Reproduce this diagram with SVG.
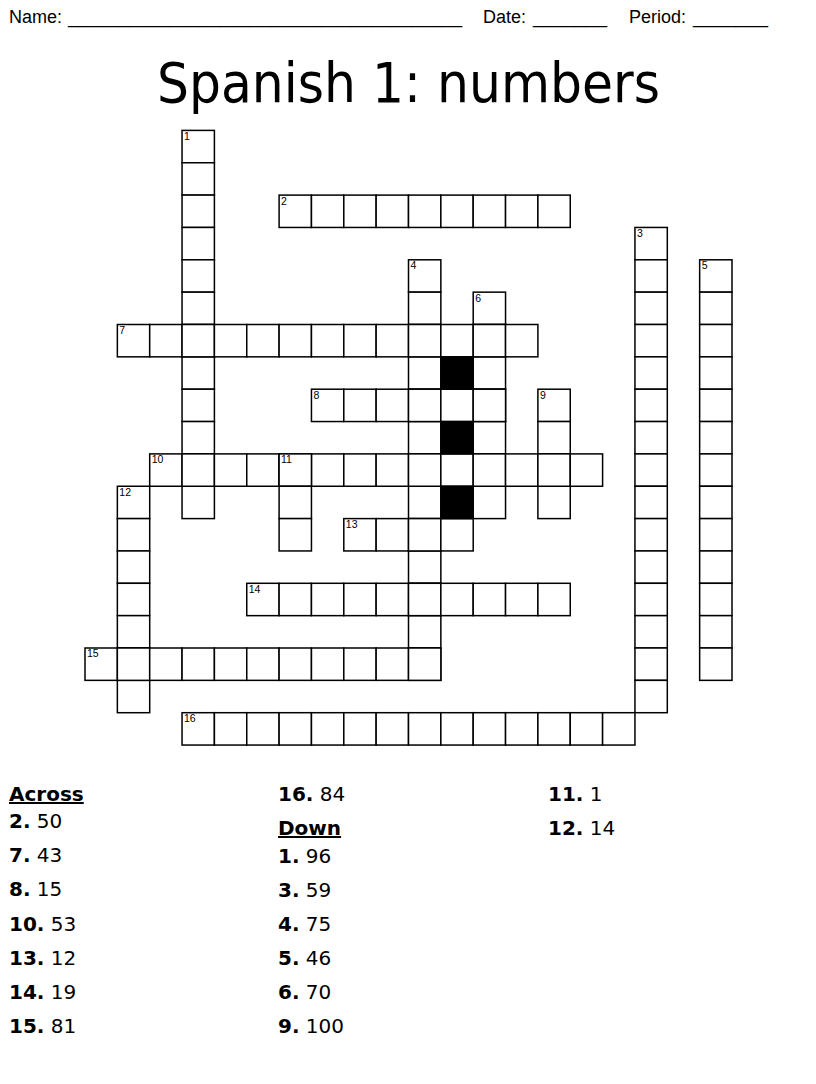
<svg xmlns="http://www.w3.org/2000/svg" width="816" height="1084" viewBox="0 0 816 1084">
<style>
.c{fill:#fff;stroke:#000;stroke-width:1.5}
.b{fill:#000;stroke:#000;stroke-width:1.5}
.n{font-family:"Liberation Sans",Arial,sans-serif;font-size:10.5px;fill:#000}
.h{font-family:"Liberation Sans",Arial,sans-serif;font-size:18px;fill:#000}
.t{font-family:"DejaVu Sans",sans-serif;font-size:56px;fill:#000}
.k{font-family:"DejaVu Sans",sans-serif;font-size:20px;fill:#000}
.k tspan.bn{font-weight:bold}
.hd{font-family:"DejaVu Sans",sans-serif;font-size:20px;font-weight:bold;text-decoration:underline;fill:#000}
</style>
<rect width="816" height="1084" fill="#fff"/>
<g id="header">
<text class="h" x="9" y="23">Name:</text>
<text class="h" x="68" y="23" textLength="394" lengthAdjust="spacingAndGlyphs">_______________________________________</text>
<text class="h" x="483" y="23">Date:</text>
<text class="h" x="533" y="23" textLength="74" lengthAdjust="spacingAndGlyphs">_______</text>
<text class="h" x="629" y="23">Period:</text>
<text class="h" x="693" y="23" textLength="75" lengthAdjust="spacingAndGlyphs">_______</text>
</g>
<text id="title" class="t" x="157" y="102" textLength="503" lengthAdjust="spacingAndGlyphs">Spanish 1: numbers</text>
<g id="grid" transform="translate(85,130.4)">
<g id="w1">
<rect class="c" x="97.05" y="0" width="32.35" height="32.35"/>
<rect class="c" x="97.05" y="32.35" width="32.35" height="32.35"/>
<rect class="c" x="97.05" y="64.7" width="32.35" height="32.35"/>
<rect class="c" x="97.05" y="97.05" width="32.35" height="32.35"/>
<rect class="c" x="97.05" y="129.4" width="32.35" height="32.35"/>
<rect class="c" x="97.05" y="161.75" width="32.35" height="32.35"/>
<rect class="c" x="97.05" y="194.1" width="32.35" height="32.35"/>
<rect class="c" x="97.05" y="226.45" width="32.35" height="32.35"/>
<rect class="c" x="97.05" y="258.8" width="32.35" height="32.35"/>
<rect class="c" x="97.05" y="291.15" width="32.35" height="32.35"/>
<rect class="c" x="97.05" y="323.5" width="32.35" height="32.35"/>
<rect class="c" x="97.05" y="355.85" width="32.35" height="32.35"/>
</g>
<g id="w2">
<rect class="c" x="194.1" y="64.7" width="32.35" height="32.35"/>
<rect class="c" x="226.45" y="64.7" width="32.35" height="32.35"/>
<rect class="c" x="258.8" y="64.7" width="32.35" height="32.35"/>
<rect class="c" x="291.15" y="64.7" width="32.35" height="32.35"/>
<rect class="c" x="323.5" y="64.7" width="32.35" height="32.35"/>
<rect class="c" x="355.85" y="64.7" width="32.35" height="32.35"/>
<rect class="c" x="388.2" y="64.7" width="32.35" height="32.35"/>
<rect class="c" x="420.55" y="64.7" width="32.35" height="32.35"/>
<rect class="c" x="452.9" y="64.7" width="32.35" height="32.35"/>
</g>
<g id="w3">
<rect class="c" x="549.95" y="97.05" width="32.35" height="32.35"/>
<rect class="c" x="549.95" y="129.4" width="32.35" height="32.35"/>
<rect class="c" x="549.95" y="161.75" width="32.35" height="32.35"/>
<rect class="c" x="549.95" y="194.1" width="32.35" height="32.35"/>
<rect class="c" x="549.95" y="226.45" width="32.35" height="32.35"/>
<rect class="c" x="549.95" y="258.8" width="32.35" height="32.35"/>
<rect class="c" x="549.95" y="291.15" width="32.35" height="32.35"/>
<rect class="c" x="549.95" y="323.5" width="32.35" height="32.35"/>
<rect class="c" x="549.95" y="355.85" width="32.35" height="32.35"/>
<rect class="c" x="549.95" y="388.2" width="32.35" height="32.35"/>
<rect class="c" x="549.95" y="420.55" width="32.35" height="32.35"/>
<rect class="c" x="549.95" y="452.9" width="32.35" height="32.35"/>
<rect class="c" x="549.95" y="485.25" width="32.35" height="32.35"/>
<rect class="c" x="549.95" y="517.6" width="32.35" height="32.35"/>
<rect class="c" x="549.95" y="549.95" width="32.35" height="32.35"/>
</g>
<g id="w4">
<rect class="c" x="323.5" y="129.4" width="32.35" height="32.35"/>
<rect class="c" x="323.5" y="161.75" width="32.35" height="32.35"/>
<rect class="c" x="323.5" y="194.1" width="32.35" height="32.35"/>
<rect class="c" x="323.5" y="226.45" width="32.35" height="32.35"/>
<rect class="c" x="323.5" y="258.8" width="32.35" height="32.35"/>
<rect class="c" x="323.5" y="291.15" width="32.35" height="32.35"/>
<rect class="c" x="323.5" y="323.5" width="32.35" height="32.35"/>
<rect class="c" x="323.5" y="355.85" width="32.35" height="32.35"/>
<rect class="c" x="323.5" y="388.2" width="32.35" height="32.35"/>
<rect class="c" x="323.5" y="420.55" width="32.35" height="32.35"/>
<rect class="c" x="323.5" y="452.9" width="32.35" height="32.35"/>
<rect class="c" x="323.5" y="485.25" width="32.35" height="32.35"/>
<rect class="c" x="323.5" y="517.6" width="32.35" height="32.35"/>
</g>
<g id="w5">
<rect class="c" x="614.65" y="129.4" width="32.35" height="32.35"/>
<rect class="c" x="614.65" y="161.75" width="32.35" height="32.35"/>
<rect class="c" x="614.65" y="194.1" width="32.35" height="32.35"/>
<rect class="c" x="614.65" y="226.45" width="32.35" height="32.35"/>
<rect class="c" x="614.65" y="258.8" width="32.35" height="32.35"/>
<rect class="c" x="614.65" y="291.15" width="32.35" height="32.35"/>
<rect class="c" x="614.65" y="323.5" width="32.35" height="32.35"/>
<rect class="c" x="614.65" y="355.85" width="32.35" height="32.35"/>
<rect class="c" x="614.65" y="388.2" width="32.35" height="32.35"/>
<rect class="c" x="614.65" y="420.55" width="32.35" height="32.35"/>
<rect class="c" x="614.65" y="452.9" width="32.35" height="32.35"/>
<rect class="c" x="614.65" y="485.25" width="32.35" height="32.35"/>
<rect class="c" x="614.65" y="517.6" width="32.35" height="32.35"/>
</g>
<g id="w6">
<rect class="c" x="388.2" y="161.75" width="32.35" height="32.35"/>
<rect class="c" x="388.2" y="194.1" width="32.35" height="32.35"/>
<rect class="c" x="388.2" y="226.45" width="32.35" height="32.35"/>
<rect class="c" x="388.2" y="258.8" width="32.35" height="32.35"/>
<rect class="c" x="388.2" y="291.15" width="32.35" height="32.35"/>
<rect class="c" x="388.2" y="323.5" width="32.35" height="32.35"/>
<rect class="c" x="388.2" y="355.85" width="32.35" height="32.35"/>
</g>
<g id="w7">
<rect class="c" x="32.35" y="194.1" width="32.35" height="32.35"/>
<rect class="c" x="64.7" y="194.1" width="32.35" height="32.35"/>
<rect class="c" x="97.05" y="194.1" width="32.35" height="32.35"/>
<rect class="c" x="129.4" y="194.1" width="32.35" height="32.35"/>
<rect class="c" x="161.75" y="194.1" width="32.35" height="32.35"/>
<rect class="c" x="194.1" y="194.1" width="32.35" height="32.35"/>
<rect class="c" x="226.45" y="194.1" width="32.35" height="32.35"/>
<rect class="c" x="258.8" y="194.1" width="32.35" height="32.35"/>
<rect class="c" x="291.15" y="194.1" width="32.35" height="32.35"/>
<rect class="c" x="323.5" y="194.1" width="32.35" height="32.35"/>
<rect class="c" x="355.85" y="194.1" width="32.35" height="32.35"/>
<rect class="c" x="388.2" y="194.1" width="32.35" height="32.35"/>
<rect class="c" x="420.55" y="194.1" width="32.35" height="32.35"/>
</g>
<g id="w8">
<rect class="c" x="226.45" y="258.8" width="32.35" height="32.35"/>
<rect class="c" x="258.8" y="258.8" width="32.35" height="32.35"/>
<rect class="c" x="291.15" y="258.8" width="32.35" height="32.35"/>
<rect class="c" x="323.5" y="258.8" width="32.35" height="32.35"/>
<rect class="c" x="355.85" y="258.8" width="32.35" height="32.35"/>
<rect class="c" x="388.2" y="258.8" width="32.35" height="32.35"/>
</g>
<g id="w9">
<rect class="c" x="452.9" y="258.8" width="32.35" height="32.35"/>
<rect class="c" x="452.9" y="291.15" width="32.35" height="32.35"/>
<rect class="c" x="452.9" y="323.5" width="32.35" height="32.35"/>
<rect class="c" x="452.9" y="355.85" width="32.35" height="32.35"/>
</g>
<g id="w10">
<rect class="c" x="64.7" y="323.5" width="32.35" height="32.35"/>
<rect class="c" x="97.05" y="323.5" width="32.35" height="32.35"/>
<rect class="c" x="129.4" y="323.5" width="32.35" height="32.35"/>
<rect class="c" x="161.75" y="323.5" width="32.35" height="32.35"/>
<rect class="c" x="194.1" y="323.5" width="32.35" height="32.35"/>
<rect class="c" x="226.45" y="323.5" width="32.35" height="32.35"/>
<rect class="c" x="258.8" y="323.5" width="32.35" height="32.35"/>
<rect class="c" x="291.15" y="323.5" width="32.35" height="32.35"/>
<rect class="c" x="323.5" y="323.5" width="32.35" height="32.35"/>
<rect class="c" x="355.85" y="323.5" width="32.35" height="32.35"/>
<rect class="c" x="388.2" y="323.5" width="32.35" height="32.35"/>
<rect class="c" x="420.55" y="323.5" width="32.35" height="32.35"/>
<rect class="c" x="452.9" y="323.5" width="32.35" height="32.35"/>
<rect class="c" x="485.25" y="323.5" width="32.35" height="32.35"/>
</g>
<g id="w11">
<rect class="c" x="194.1" y="323.5" width="32.35" height="32.35"/>
<rect class="c" x="194.1" y="355.85" width="32.35" height="32.35"/>
<rect class="c" x="194.1" y="388.2" width="32.35" height="32.35"/>
</g>
<g id="w12">
<rect class="c" x="32.35" y="355.85" width="32.35" height="32.35"/>
<rect class="c" x="32.35" y="388.2" width="32.35" height="32.35"/>
<rect class="c" x="32.35" y="420.55" width="32.35" height="32.35"/>
<rect class="c" x="32.35" y="452.9" width="32.35" height="32.35"/>
<rect class="c" x="32.35" y="485.25" width="32.35" height="32.35"/>
<rect class="c" x="32.35" y="517.6" width="32.35" height="32.35"/>
<rect class="c" x="32.35" y="549.95" width="32.35" height="32.35"/>
</g>
<g id="w13">
<rect class="c" x="258.8" y="388.2" width="32.35" height="32.35"/>
<rect class="c" x="291.15" y="388.2" width="32.35" height="32.35"/>
<rect class="c" x="323.5" y="388.2" width="32.35" height="32.35"/>
<rect class="c" x="355.85" y="388.2" width="32.35" height="32.35"/>
</g>
<g id="w14">
<rect class="c" x="161.75" y="452.9" width="32.35" height="32.35"/>
<rect class="c" x="194.1" y="452.9" width="32.35" height="32.35"/>
<rect class="c" x="226.45" y="452.9" width="32.35" height="32.35"/>
<rect class="c" x="258.8" y="452.9" width="32.35" height="32.35"/>
<rect class="c" x="291.15" y="452.9" width="32.35" height="32.35"/>
<rect class="c" x="323.5" y="452.9" width="32.35" height="32.35"/>
<rect class="c" x="355.85" y="452.9" width="32.35" height="32.35"/>
<rect class="c" x="388.2" y="452.9" width="32.35" height="32.35"/>
<rect class="c" x="420.55" y="452.9" width="32.35" height="32.35"/>
<rect class="c" x="452.9" y="452.9" width="32.35" height="32.35"/>
</g>
<g id="w15">
<rect class="c" x="0" y="517.6" width="32.35" height="32.35"/>
<rect class="c" x="32.35" y="517.6" width="32.35" height="32.35"/>
<rect class="c" x="64.7" y="517.6" width="32.35" height="32.35"/>
<rect class="c" x="97.05" y="517.6" width="32.35" height="32.35"/>
<rect class="c" x="129.4" y="517.6" width="32.35" height="32.35"/>
<rect class="c" x="161.75" y="517.6" width="32.35" height="32.35"/>
<rect class="c" x="194.1" y="517.6" width="32.35" height="32.35"/>
<rect class="c" x="226.45" y="517.6" width="32.35" height="32.35"/>
<rect class="c" x="258.8" y="517.6" width="32.35" height="32.35"/>
<rect class="c" x="291.15" y="517.6" width="32.35" height="32.35"/>
<rect class="c" x="323.5" y="517.6" width="32.35" height="32.35"/>
</g>
<g id="w16">
<rect class="c" x="97.05" y="582.3" width="32.35" height="32.35"/>
<rect class="c" x="129.4" y="582.3" width="32.35" height="32.35"/>
<rect class="c" x="161.75" y="582.3" width="32.35" height="32.35"/>
<rect class="c" x="194.1" y="582.3" width="32.35" height="32.35"/>
<rect class="c" x="226.45" y="582.3" width="32.35" height="32.35"/>
<rect class="c" x="258.8" y="582.3" width="32.35" height="32.35"/>
<rect class="c" x="291.15" y="582.3" width="32.35" height="32.35"/>
<rect class="c" x="323.5" y="582.3" width="32.35" height="32.35"/>
<rect class="c" x="355.85" y="582.3" width="32.35" height="32.35"/>
<rect class="c" x="388.2" y="582.3" width="32.35" height="32.35"/>
<rect class="c" x="420.55" y="582.3" width="32.35" height="32.35"/>
<rect class="c" x="452.9" y="582.3" width="32.35" height="32.35"/>
<rect class="c" x="485.25" y="582.3" width="32.35" height="32.35"/>
<rect class="c" x="517.6" y="582.3" width="32.35" height="32.35"/>
</g>
<g id="blocks">
<rect class="b" x="355.85" y="226.45" width="32.35" height="32.35"/>
<rect class="b" x="355.85" y="291.15" width="32.35" height="32.35"/>
<rect class="b" x="355.85" y="355.85" width="32.35" height="32.35"/>
</g>
<g id="numbers">
<text class="n" x="99" y="9.5">1</text>
<text class="n" x="196" y="74.2">2</text>
<text class="n" x="552" y="106.5">3</text>
<text class="n" x="325.5" y="138.9">4</text>
<text class="n" x="616.7" y="138.9">5</text>
<text class="n" x="390.2" y="171.2">6</text>
<text class="n" x="34.3" y="203.6">7</text>
<text class="n" x="228.4" y="268.3">8</text>
<text class="n" x="454.9" y="268.3">9</text>
<text class="n" x="66.7" y="333">10</text>
<text class="n" x="196" y="333">11</text>
<text class="n" x="34.3" y="365.3">12</text>
<text class="n" x="260.8" y="397.7">13</text>
<text class="n" x="163.7" y="462.4">14</text>
<text class="n" x="2" y="527.1">15</text>
<text class="n" x="99" y="591.8">16</text>
</g>
</g>
<g id="clues">
<text class="hd" x="9" y="801">Across</text>
<text class="k" x="9" y="828"><tspan class="bn">2.</tspan> 50</text>
<text class="k" x="9" y="862"><tspan class="bn">7.</tspan> 43</text>
<text class="k" x="9" y="896"><tspan class="bn">8.</tspan> 15</text>
<text class="k" x="9" y="931"><tspan class="bn">10.</tspan> 53</text>
<text class="k" x="9" y="965"><tspan class="bn">13.</tspan> 12</text>
<text class="k" x="9" y="999"><tspan class="bn">14.</tspan> 19</text>
<text class="k" x="9" y="1033"><tspan class="bn">15.</tspan> 81</text>
<text class="k" x="278" y="801"><tspan class="bn">16.</tspan> 84</text>
<text class="hd" x="278" y="835">Down</text>
<text class="k" x="278" y="863"><tspan class="bn">1.</tspan> 96</text>
<text class="k" x="278" y="897"><tspan class="bn">3.</tspan> 59</text>
<text class="k" x="278" y="931"><tspan class="bn">4.</tspan> 75</text>
<text class="k" x="278" y="965"><tspan class="bn">5.</tspan> 46</text>
<text class="k" x="278" y="999"><tspan class="bn">6.</tspan> 70</text>
<text class="k" x="278" y="1033"><tspan class="bn">9.</tspan> 100</text>
<text class="k" x="548" y="801"><tspan class="bn">11.</tspan> 1</text>
<text class="k" x="548" y="835"><tspan class="bn">12.</tspan> 14</text>
</g>
</svg>
